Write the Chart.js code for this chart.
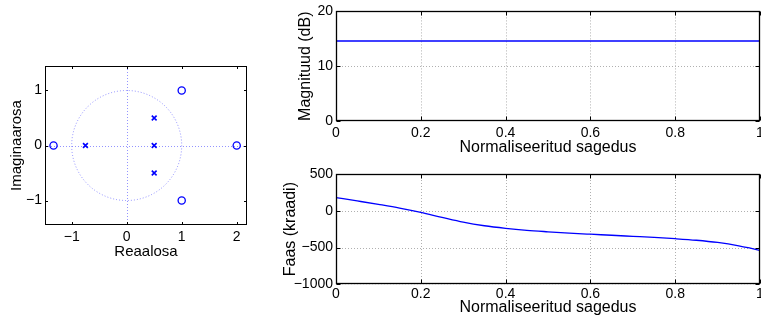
<!DOCTYPE html>
<html><head><meta charset="utf-8">
<script src="https://cdn.jsdelivr.net/npm/chart.js@4/dist/chart.umd.min.js"></script>
<style>
html,body{margin:0;padding:0;background:#fff;overflow:hidden;width:761px;height:321px;}
canvas{position:absolute;}
</style></head><body>
<canvas id="pz" width="270" height="270" style="left:0;top:0"></canvas>
<canvas id="mag" width="500" height="160" style="left:270px;top:0"></canvas>
<canvas id="ph" width="500" height="161" style="left:270px;top:160px"></canvas>
<script>
// ---- data ----
const zerosRe = [-1.33, 2, 1, 1];
const zerosIm = [0, 0, 1, -1];
const polesRe = [-0.75, 0.5, 0.5, 0.5];
const polesIm = [0, 0, 0.5, -0.5];
const pzXTicks = [-1, 0, 1, 2];
const pzYTicks = [-1, 0, 1];

const magFreq = [0, 0.1, 0.2, 0.3, 0.4, 0.5, 0.6, 0.7, 0.8, 0.9, 1];
const magnitudeDb = [14.6, 14.6, 14.6, 14.6, 14.6, 14.6, 14.6, 14.6, 14.6, 14.6, 14.6];
const magTicks = [0, 10, 20];

const phaseFreq = [0, 0.05, 0.1, 0.15, 0.2, 0.25, 0.3, 0.35, 0.4, 0.45, 0.5, 0.55, 0.6, 0.65, 0.7, 0.75, 0.8, 0.85, 0.9, 0.95, 0.975, 1];
const phaseDeg = [180, 134, 87, 37, -22, -90, -155, -204, -239, -266, -286, -304, -319, -333, -348, -363, -380, -401, -431, -476, -506, -540];
const phaseTicks = [-1000, -500, 0, 500];

const freqTicks = [0, 0.2, 0.4, 0.6, 0.8, 1];

const xLabelFreq = 'Normaliseeritud sagedus';
const magLabel = 'Magnituud (dB)';
const phaseLabel = 'Faas (kraadi)';
const reLabel = 'Reaalosa';
const imLabel = 'Imaginaarosa';

// ---- drawing ----
const FONT = 'Liberation Sans, Arial, Helvetica, sans-serif';
Chart.defaults.font.family = FONT;
Chart.defaults.color = '#000';

function fmt(v) { return (v < 0 ? '\u2212' : '') + Math.abs(v); }

const matlabAxes = {
  id: 'matlabAxes',
  beforeDatasetsDraw(chart, args, opts) {
    const {ctx, chartArea: a, scales: {x, y}} = chart;
    ctx.save();
    ctx.beginPath();
    ctx.rect(a.left, a.top, a.right - a.left, a.bottom - a.top);
    ctx.clip();
    if (opts.grid) {
      ctx.strokeStyle = '#b0b0b0';
      ctx.lineWidth = 1;
      ctx.setLineDash([1, 2]);
      x.ticks.forEach(t => {
        const px = Math.round(x.getPixelForValue(t.value)) + 0.5;
        ctx.beginPath(); ctx.moveTo(px, a.top); ctx.lineTo(px, a.bottom); ctx.stroke();
      });
      y.ticks.forEach(t => {
        const py = Math.round(y.getPixelForValue(t.value)) + 0.5;
        ctx.beginPath(); ctx.moveTo(a.left, py); ctx.lineTo(a.right, py); ctx.stroke();
      });
    }
    if (opts.unitCircle) {
      ctx.strokeStyle = 'rgba(60,60,255,0.55)';
      ctx.lineWidth = 1;
      ctx.setLineDash([1, 2]);
      const cx = x.getPixelForValue(0), cy = y.getPixelForValue(0);
      const rx = x.getPixelForValue(1) - cx, ry = cy - y.getPixelForValue(1);
      ctx.beginPath(); ctx.ellipse(cx, cy, rx, ry, 0, 0, 2 * Math.PI); ctx.stroke();
      const px = Math.round(cx) + 0.5, py = Math.round(cy) + 0.5;
      ctx.beginPath(); ctx.moveTo(px, a.top); ctx.lineTo(px, a.bottom); ctx.stroke();
      ctx.beginPath(); ctx.moveTo(a.left, py); ctx.lineTo(a.right, py); ctx.stroke();
    }
    ctx.restore();
  },
  afterDatasetsDraw(chart, args, opts) {
    const {ctx, chartArea: a, scales: {x, y}} = chart;
    const L = Math.round(a.left) + 0.5, R = Math.round(a.right) - 0.5;
    const T = Math.round(a.top) + 0.5, B = Math.round(a.bottom) - 0.5;
    const tl = opts.tickLen;
    ctx.save();
    ctx.strokeStyle = '#000';
    ctx.lineWidth = opts.lineWidth;
    ctx.setLineDash([]);
    ctx.strokeRect(L, T, R - L, B - T);
    ctx.lineWidth = 1;
    x.ticks.forEach(t => {
      const px = Math.round(x.getPixelForValue(t.value)) + 0.5;
      ctx.beginPath(); ctx.moveTo(px, B); ctx.lineTo(px, B - tl); ctx.stroke();
      ctx.beginPath(); ctx.moveTo(px, T); ctx.lineTo(px, T + tl); ctx.stroke();
    });
    y.ticks.forEach(t => {
      const py = Math.round(y.getPixelForValue(t.value)) + 0.5;
      ctx.beginPath(); ctx.moveTo(L, py); ctx.lineTo(L + tl, py); ctx.stroke();
      ctx.beginPath(); ctx.moveTo(R, py); ctx.lineTo(R - tl, py); ctx.stroke();
    });
    ctx.restore();
  }
};

function xScale(min, max, tickArr, height, title, titleSize, titlePad, tickPad) {
  return {
    type: 'linear', min, max,
    afterFit(s) { s.height = height; },
    afterBuildTicks(s) { s.ticks = tickArr.map(v => ({value: v})); },
    grid: {display: false, drawTicks: false, tickLength: 0}, border: {display: false},
    ticks: {autoSkip: false, maxRotation: 0, padding: tickPad, color: '#000', font: {size: 14}, callback: fmt},
    title: {display: true, text: title, color: '#000', font: {size: titleSize}, padding: {top: 0, bottom: titlePad}}
  };
}
function yScale(min, max, tickArr, width, title, titleSize, titlePad) {
  return {
    type: 'linear', min, max,
    afterFit(s) { s.width = width; },
    afterBuildTicks(s) { s.ticks = tickArr.map(v => ({value: v})); },
    grid: {display: false, drawTicks: false, tickLength: 0}, border: {display: false},
    ticks: {autoSkip: false, padding: 3, color: '#000', font: {size: 14}, callback: fmt},
    title: {display: true, text: title, color: '#000', font: {size: titleSize}, padding: {top: titlePad, bottom: 0}}
  };
}
const common = {
  responsive: false, animation: false, devicePixelRatio: 1,
  events: []
};

new Chart(document.getElementById('pz'), {
  type: 'scatter',
  data: {datasets: [
    {data: zerosRe.map((r, i) => ({x: r, y: zerosIm[i]})), pointStyle: 'circle', pointRadius: 3.6,
     borderColor: '#0000ff', backgroundColor: 'rgba(0,0,0,0)', borderWidth: 1.3},
    {data: polesRe.map((r, i) => ({x: r, y: polesIm[i]})), pointStyle: 'crossRot', pointRadius: 3.4,
     borderColor: '#0000ff', backgroundColor: '#0000ff', borderWidth: 1.6}
  ]},
  options: Object.assign({}, common, {
    layout: {padding: {top: 66, right: 23, left: 0, bottom: 0}},
    plugins: {legend: {display: false}, tooltip: {enabled: false},
      matlabAxes: {grid: false, unitCircle: true, tickLen: 2.5, lineWidth: 1}},
    scales: {
      x: xScale(-1.485, 2.187, pzXTicks, 45, reLabel, 15, 9.5, 4),
      y: yScale(-1.445, 1.445, pzYTicks, 45, imLabel, 15, 8)
    }
  }),
  plugins: [matlabAxes]
});

new Chart(document.getElementById('mag'), {
  type: 'line',
  data: {datasets: [
    {data: magFreq.map((f, i) => ({x: f, y: magnitudeDb[i]})), borderColor: '#0000ff', borderWidth: 1.3,
     pointRadius: 0, fill: false}
  ]},
  options: Object.assign({}, common, {
    layout: {padding: {top: 10, right: 10, left: 0, bottom: 0}},
    plugins: {legend: {display: false}, tooltip: {enabled: false},
      matlabAxes: {grid: true, unitCircle: false, tickLen: 4, lineWidth: 1.3}},
    scales: {
      x: xScale(0, 1, freqTicks, 39, xLabelFreq, 16, 3, 4),
      y: yScale(0, 20, magTicks, 66, magLabel, 16, 25.5)
    }
  }),
  plugins: [matlabAxes]
});

new Chart(document.getElementById('ph'), {
  type: 'line',
  data: {datasets: [
    {data: phaseFreq.map((f, i) => ({x: f, y: phaseDeg[i]})), borderColor: '#0000ff', borderWidth: 1.3,
     pointRadius: 0, fill: false, cubicInterpolationMode: 'monotone'}
  ]},
  options: Object.assign({}, common, {
    layout: {padding: {top: 14, right: 10, left: 0, bottom: 0}},
    plugins: {legend: {display: false}, tooltip: {enabled: false},
      matlabAxes: {grid: true, unitCircle: false, tickLen: 4, lineWidth: 1.3}},
    scales: {
      x: xScale(0, 1, freqTicks, 36.7, xLabelFreq, 16, 3.7, 1),
      y: yScale(-1000, 500, phaseTicks, 66, phaseLabel, 16, 11)
    }
  }),
  plugins: [matlabAxes]
});
</script>
</body></html>
